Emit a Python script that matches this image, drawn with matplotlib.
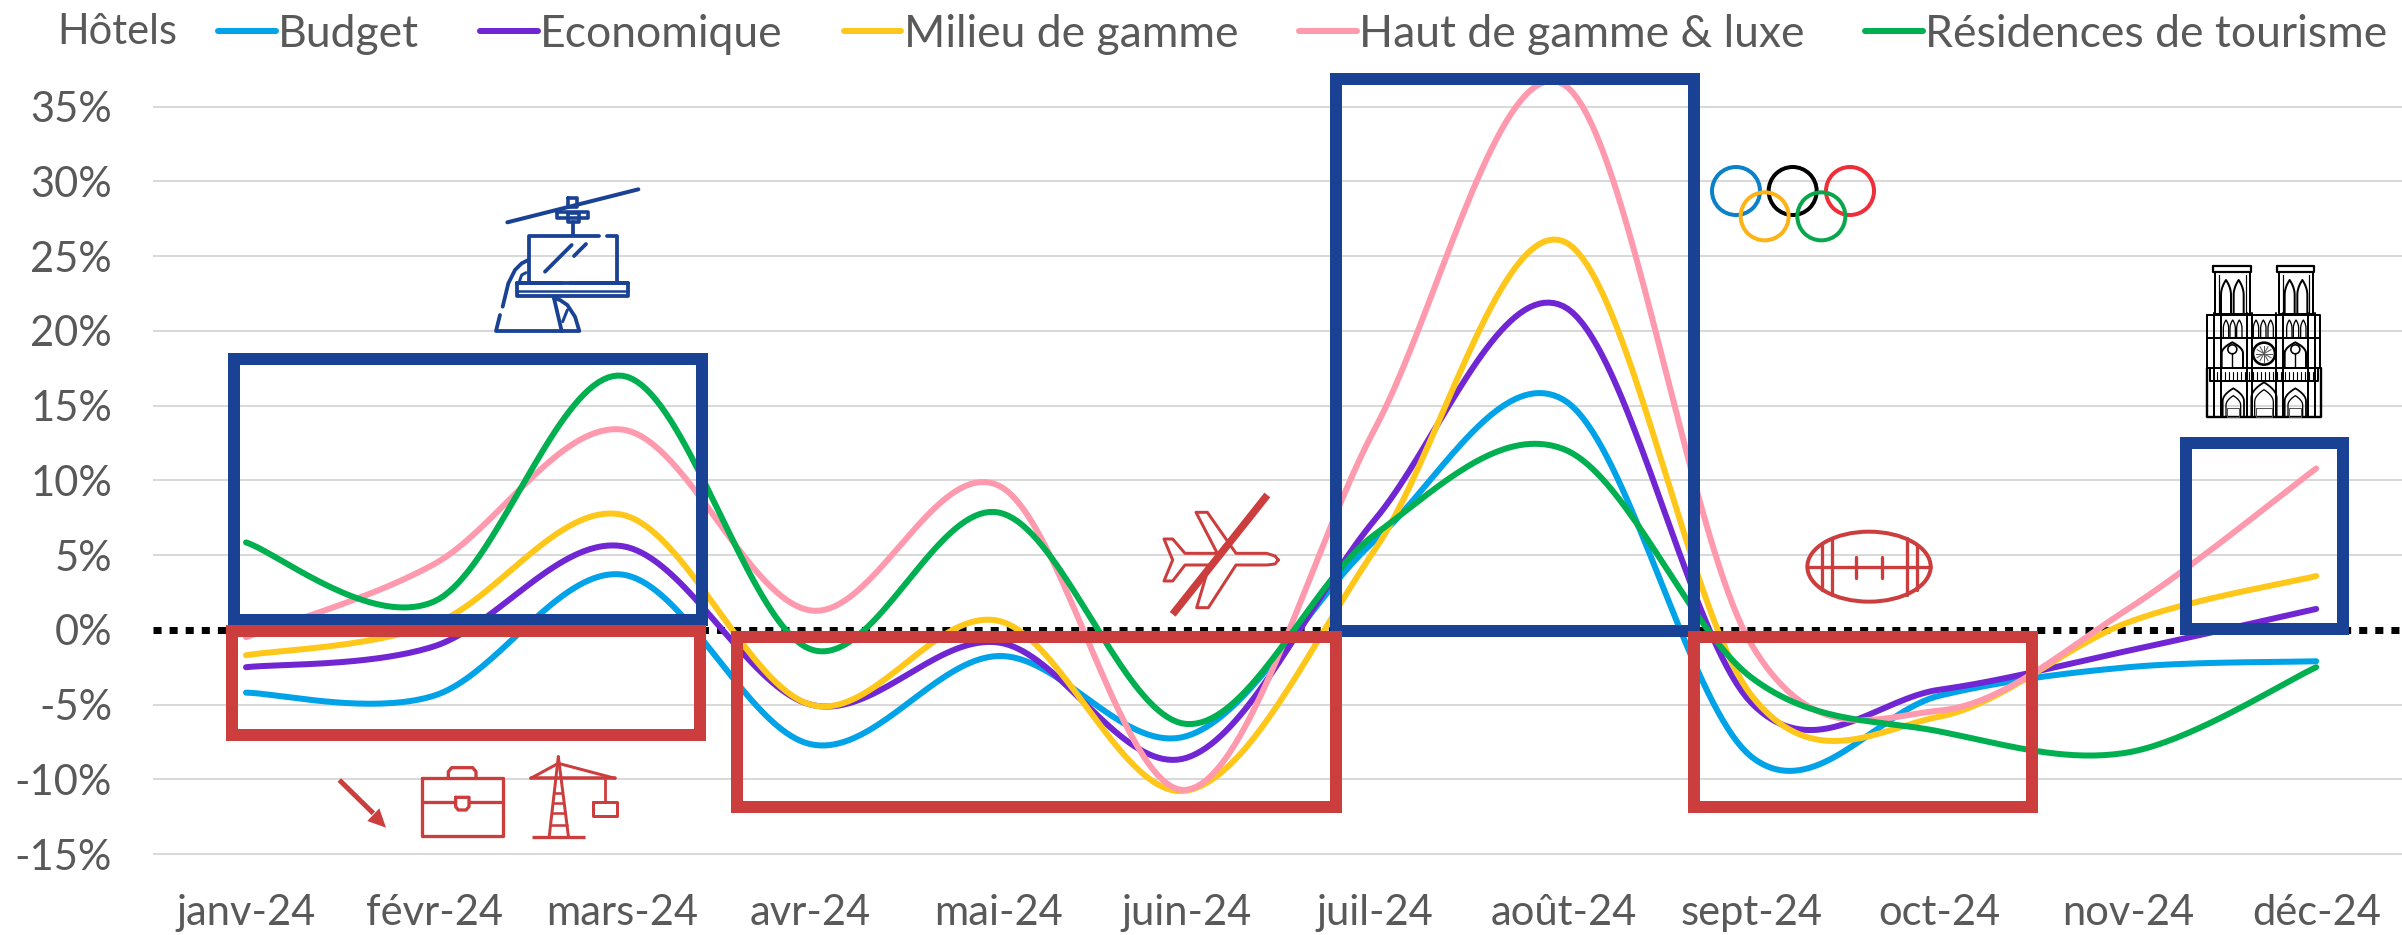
import numpy as np
import matplotlib
matplotlib.use('Agg')
import matplotlib.pyplot as plt
from matplotlib.patches import Circle, Ellipse, Rectangle, Polygon

plt.rcParams['font.family'] = ['Lato', 'DejaVu Sans']

months = ['janv-24', 'févr-24', 'mars-24', 'avr-24', 'mai-24', 'juin-24',
          'juil-24', 'août-24', 'sept-24', 'oct-24', 'nov-24', 'déc-24']
y_ticks = [-15, -10, -5, 0, 5, 10, 15, 20, 25, 30, 35]
y_labels = ['-15%', '-10%', '-5%', '0%', '5%', '10%', '15%', '20%', '25%', '30%', '35%']

budget = [-4.2, -4.4, 3.7, -7.65, -1.75, -7.1, 6.0, 15.4, -8.5, -4.4, -2.5, -2.1]
economique = [-2.5, -1.1, 5.6, -5.0, -0.85, -8.55, 7.4, 21.65, -4.9, -4.0, -1.4, 1.4]
milieu = [-1.7, 0.4, 7.7, -5.0, 0.6, -10.75, 5.4, 26.0, -4.4, -5.8, 0.5, 3.6]
haut = [-0.5, 4.4, 13.4, 1.3, 9.65, -10.7, 13.5, 36.5, -1.0, -5.4, 1.4, 10.8]
residences = [5.85, 1.9, 17.0, -1.3, 7.85, -6.3, 6.4, 12.1, -3.2, -6.8, -8.2, -2.5]

series = [('Budget', budget, '#00A3E8'),
          ('Economique', economique, '#7026D2'),
          ('Milieu de gamme', milieu, '#FFC71A'),
          ('Haut de gamme & luxe', haut, '#FF99AE'),
          ('Résidences de tourisme', residences, '#00AF50')]

RED = '#CC3E3E'
BLUE = '#1A4294'
GREY = '#595959'
W, H = 2402, 935
FS = 30
LEG_FS = 32


def px(n):
    return n * 72 / 100


def smooth(values, steps=40):
    # same kind of smoothing as a spreadsheet "smoothed line"
    p = np.column_stack([np.arange(len(values), dtype=float), values])
    xs, ys = [], []
    for i in range(len(p) - 1):
        p0, p3 = p[i], p[i + 1]
        p1 = p0 + (p[i + 1] - p[max(i - 1, 0)]) / 6
        p2 = p3 - (p[min(i + 2, len(p) - 1)] - p[i]) / 6
        t = np.linspace(0, 1, steps)[:, None]
        c = (1 - t) ** 3 * p0 + 3 * (1 - t) ** 2 * t * p1 + 3 * (1 - t) * t ** 2 * p2 + t ** 3 * p3
        xs.extend(c[:, 0])
        ys.extend(c[:, 1])
    return xs, ys


fig = plt.figure(figsize=(W / 100, H / 100), dpi=100)
ax = fig.add_axes([153 / W, 1 - 869 / H, 1 - 153 / W, (869 - 32) / H])
ax.set_xlim((153 - 246) / 188.2, (W - 246) / 188.2)
ax.set_ylim(-16, 40)

for name, values, color in series:
    ax.plot(*smooth(values), color=color, lw=px(6), label=name, solid_capstyle='round', zorder=3)

ax.axhline(0, color='black', lw=px(7), ls=(0, (1.15, 1.15)), zorder=2)
ax.set_yticks(y_ticks, y_labels)
ax.set_xticks(range(12), months)
ax.grid(axis='y', color='#D9D9D9', lw=px(2))
ax.get_ygridlines()[3].set_visible(False)
ax.set_axisbelow(True)
ax.tick_params(axis='y', length=0, pad=px(41), labelsize=FS, labelcolor=GREY)
ax.tick_params(axis='x', length=0, pad=px(25), labelsize=FS, labelcolor=GREY)
for s in ax.spines.values():
    s.set_visible(False)

ax.legend(loc='upper left', bbox_to_anchor=(218 / W, 1 - 14 / H), bbox_transform=fig.transFigure,
          ncol=5, frameon=False, fontsize=LEG_FS, labelcolor=GREY, borderpad=0, borderaxespad=0,
          handlelength=1.3, handletextpad=0.05, columnspacing=1.37)
fig.text(57 / W, 1 - 32 / H, 'Hôtels', fontsize=FS, color=GREY, va='center', ha='left')

# overlay in picture pixels for the hand-drawn boxes and icons
ov = fig.add_axes([0, 0, 1, 1], zorder=5)
ov.set_xlim(0, W)
ov.set_ylim(H, 0)
ov.axis('off')
ov.patch.set_alpha(0)


def box(x0, y0, x1, y1, color):
    # outer edges given, stroke is 12 px wide
    ov.add_patch(Rectangle((x0 + 6, y0 + 6), x1 - x0 - 12, y1 - y0 - 12, fill=False, ec=color,
                           lw=px(12), joinstyle='miter'))


box(228, 353, 708, 626, BLUE)
box(1330, 73, 1700, 637, BLUE)
box(2180, 437, 2349, 635, BLUE)
box(226, 625, 706, 741, RED)
box(731, 631, 1342, 813, RED)
box(1688, 631, 2038, 813, RED)


def stroke(ox, oy, pts, color, w, cap='round', scale=3):
    a = np.array(pts, dtype=float)
    ov.plot(ox + a[:, 0] / scale, oy + a[:, 1] / scale, color=color, lw=px(w),
            solid_capstyle=cap, solid_joinstyle='round')


def rect(ox, oy, x0, y0, x1, y1, color, w):
    stroke(ox, oy, [(x0, y0), (x1, y0), (x1, y1), (x0, y1), (x0, y0)], color, w)


# gondola
g = (480, 170)
stroke(*g, [(82, 157), (475, 58)], BLUE, 4)
rect(*g, 230, 125, 325, 145, BLUE, 3.6)
rect(*g, 265, 85, 292, 110, BLUE, 3.6)
rect(*g, 265, 130, 297, 157, BLUE, 3.6)
stroke(*g, [(278, 157), (278, 195)], BLUE, 3.8)
stroke(*g, [(358, 197), (147, 197), (147, 335)], BLUE, 3.8)
stroke(*g, [(380, 197), (410, 197), (410, 335)], BLUE, 3.8)
stroke(*g, [(195, 305), (275, 225)], BLUE, 3.8)
stroke(*g, [(282, 258), (318, 222)], BLUE, 3.8)
stroke(*g, [(120, 340), (245, 340)], BLUE, 3.8)
stroke(*g, [(270, 340), (445, 340)], BLUE, 3.8)
rect(*g, 112, 340, 445, 378, BLUE, 3.8)
stroke(*g, [(112, 362), (445, 362)], BLUE, 2.5)
stroke(*g, [(68, 410), (85, 340), (105, 300), (125, 280), (145, 270)], BLUE, 3.8)
stroke(*g, [(60, 435), (48, 483), (298, 483), (285, 440), (262, 405), (240, 390), (222, 385)], BLUE, 3.8)
stroke(*g, [(222, 385), (245, 483)], BLUE, 3.8)
stroke(*g, [(118, 335), (125, 315), (138, 308)], BLUE, 3)
stroke(*g, [(248, 455), (262, 420)], BLUE, 3)

# notre-dame
n = (2190, 255)


def lancet(cx, w, top, bottom, lw=1.6):
    t = np.linspace(0, 1, 10)
    left = [(cx - w + w * s ** 2, bottom - (bottom - top) * (0.55 + 0.45 * s)) for s in t]
    right = [(cx + w - w * s ** 2, bottom - (bottom - top) * (0.55 + 0.45 * s)) for s in t]
    pts = [(cx - w, bottom)] + left + right[::-1] + [(cx + w, bottom)]
    stroke(*n, pts, 'black', lw)


for x0, x1 in [(72, 182), (264, 372)]:
    rect(*n, x0 - 2, 32, x1, 52, 'black', 2.2)
    rect(*n, x0 + 3, 52, x1 - 3, 178, 'black', 2)
    stroke(*n, [(x0 + 14, 60), (x0 + 14, 175)], 'black', 1.2)
    stroke(*n, [(x1 - 14, 60), (x1 - 14, 175)], 'black', 1.2)
    mid = (x0 + x1) / 2
    lancet(mid - 19, 15, 75, 175, 2)
    lancet(mid + 19, 15, 75, 175, 2)

rect(*n, 52, 180, 390, 340, 'black', 2)
stroke(*n, [(52, 250), (390, 250)], 'black', 2)
for x in [72, 92, 170, 185, 258, 280, 355, 375]:
    stroke(*n, [(x, 175), (x, 485)], 'black', 2)
for cx in [108, 128, 148, 198, 220, 242, 298, 318, 340]:
    lancet(cx, 8, 195, 250, 1.3)
for cx in [127, 316]:
    lancet(cx, 32, 262, 335, 2)
    ov.add_patch(Circle((n[0] + cx / 3, n[1] + 283 / 3), 4.5, fill=False, ec='black', lw=px(1.6)))
    stroke(*n, [(cx, 295), (cx, 335)], 'black', 1.4)
cc = (n[0] + 222 / 3, n[1] + 296 / 3)
ov.add_patch(Circle(cc, 11, fill=False, ec='black', lw=px(2.6)))
for a in np.deg2rad(np.arange(0, 180, 30)):
    ov.plot([cc[0] - 8 * np.cos(a), cc[0] + 8 * np.cos(a)], [cc[1] - 8 * np.sin(a), cc[1] + 8 * np.sin(a)],
            color='#555555', lw=px(1))
rect(*n, 60, 338, 385, 378, 'black', 2)
for x in np.arange(80, 370, 12):
    stroke(*n, [(x, 350), (x, 376)], 'black', 1.1)
stroke(*n, [(52, 340), (52, 485), (392, 485), (392, 340)], 'black', 2.4)
for cx, w, top in [(130, 32, 400), (222, 38, 382), (316, 32, 400)]:
    lancet(cx, w, top, 485, 1.8)
    lancet(cx, w - 10, top + 22, 485, 1.3)
    rect(*n, cx - w + 14, 458, cx + w - 14, 485, '#555555', 1)

# plane, struck through
p = (1150, 485)
stroke(*p, [(385, 225), (375, 213), (350, 205), (258, 205), (172, 82), (138, 82), (202, 205), (105, 205),
            (68, 162), (42, 162), (68, 225), (42, 288), (68, 288), (105, 240), (178, 240), (140, 368),
            (175, 368), (258, 240), (350, 240), (375, 237), (385, 225)], RED, 3)
stroke(*p, [(352, 30), (68, 388)], RED, 7.5, cap='butt')

# arrow, briefcase, crane
c = (320, 745)
stroke(*c, [(58, 105), (160, 205)], RED, 5, cap='butt')
ov.add_patch(Polygon([(c[0] + 198 / 3, c[1] + 248 / 3), (c[0] + 142 / 3, c[1] + 228 / 3),
                      (c[0] + 178 / 3, c[1] + 190 / 3)], color=RED, lw=0))
rect(*c, 305, 100, 548, 272, RED, 3.3)
stroke(*c, [(385, 100), (385, 80), (395, 68), (458, 68), (468, 80), (468, 100)], RED, 3.3)
stroke(*c, [(305, 170), (405, 170)], RED, 3.3)
stroke(*c, [(448, 170), (548, 170)], RED, 3.3)
stroke(*c, [(407, 157), (447, 157), (447, 185), (438, 195), (415, 195), (407, 185), (407, 157)], RED, 3.3)
stroke(*c, [(715, 35), (688, 272)], RED, 3)
stroke(*c, [(715, 35), (745, 272)], RED, 3)
stroke(*c, [(632, 100), (885, 100)], RED, 3.5)
stroke(*c, [(632, 100), (715, 55), (885, 100)], RED, 3)
for y, l, r in [(145, 706, 724), (175, 702, 728), (205, 699, 732), (240, 694, 740)]:
    stroke(*c, [(l, y), (r, y)], RED, 2.6)
stroke(*c, [(635, 277), (795, 277)], RED, 3.3, cap='butt')
stroke(*c, [(855, 100), (855, 170)], RED, 2.8)
rect(*c, 818, 170, 890, 213, RED, 3)

# rugby ball
r = (1790, 520)
ov.add_patch(Ellipse((r[0] + 237 / 3, r[1] + 140 / 3), 370 / 3, 210 / 3, fill=False, ec=RED, lw=px(4)))
stroke(*r, [(50, 142), (425, 142)], RED, 3.3, cap='butt')
for x, y0, y1 in [(95, 75, 210), (125, 55, 225), (350, 55, 225), (380, 75, 210), (198, 112, 175), (275, 112, 175)]:
    stroke(*r, [(x, y0), (x, y1)], RED, 3.3)

# olympic rings
o = (1700, 155)
for x, y, col in [(108, 108, '#0A81C8'), (278, 108, 'black'), (450, 108, '#EE2F3A'),
                  (194, 184, '#FDB216'), (364, 184, '#0AA64C')]:
    ov.add_patch(Circle((o[0] + x / 3, o[1] + y / 3), 24, fill=False, ec=col, lw=px(4)))

fig.savefig('out.png', dpi=100)
